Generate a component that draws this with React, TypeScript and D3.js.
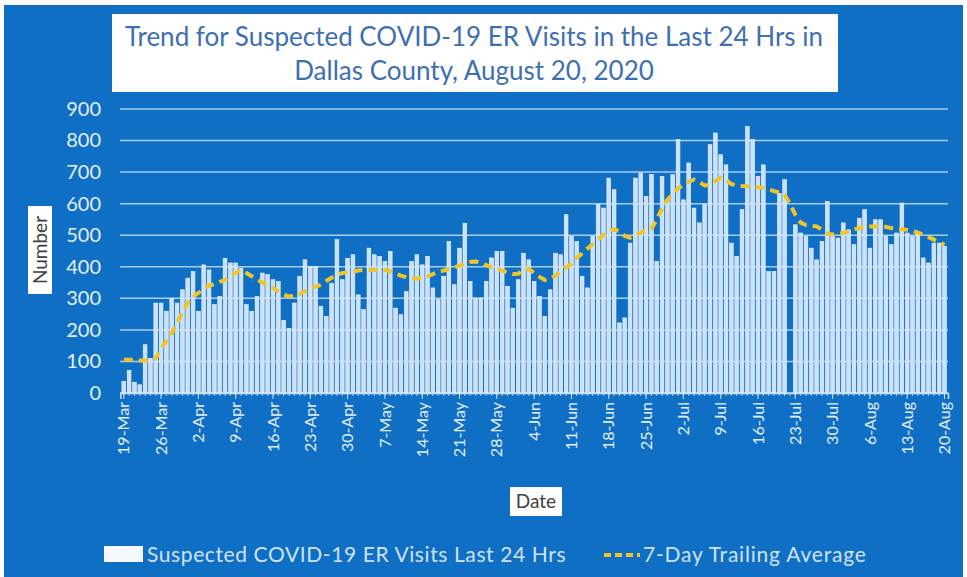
import { useRef, useEffect } from "react";
import { select, scaleBand, scaleLinear, line, axisLeft, axisBottom, timeDay, timeFormat } from "d3";

// daily ER visits, 19-Mar .. 20-Aug 2020
const visits: number[] = [
  37, 72, 34, 26, 153, 110, 285,
  285, 259, 300, 285, 327, 364, 385,
  259, 406, 390, 280, 306, 427, 412,
  412, 396, 280, 259, 306, 380, 375,
  359, 354, 230, 205, 285, 370, 422,
  401, 401, 275, 243, 348, 486, 359,
  427, 438, 311, 264, 459, 438, 433,
  417, 449, 269, 248, 322, 417, 438,
  406, 433, 333, 296, 370, 480, 343,
  459, 538, 354, 301, 301, 354, 428,
  449, 449, 338, 269, 359, 443, 422,
  354, 306, 243, 327, 443, 438, 565,
  496, 480, 370, 333, 496, 597, 586,
  681, 644, 222, 238, 475, 681, 697,
  623, 692, 417, 686, 612, 692, 803,
  612, 729, 586, 539, 597, 787, 824,
  755, 723, 475, 433, 581, 845, 803,
  686, 723, 385, 385, 633, 676, 0,
  533, 507, 496, 459, 422, 480, 607,
  496, 491, 539, 517, 470, 554, 581,
  459, 549, 549, 496, 470, 507, 602,
  507, 496, 502, 428, 412, 475, 475,
  465,
];

// 7-day trailing average as drawn
const trailing: number[] = [
  105, 105, 105, 103, 103, 103, 110,
  140, 165, 190, 222, 255, 285, 305,
  317, 330, 340, 345, 352, 358, 370,
  382, 390, 380, 370, 360, 350, 340,
  333, 322, 312, 306, 308, 314, 322,
  330, 337, 343, 355, 365, 375, 380,
  383, 385, 388, 390, 390, 390, 390,
  390, 385, 378, 372, 367, 364, 363,
  365, 370, 377, 383, 388, 393, 398,
  404, 410, 415, 417, 412, 405, 398,
  394, 388, 382, 377, 378, 390, 393,
  380, 368, 358, 362, 372, 385, 398,
  410, 428, 443, 458, 472, 487, 500,
  512, 520, 510, 498, 492, 500, 508,
  515, 520, 550, 585, 612, 632, 648,
  660, 670, 676, 668, 658, 660, 672,
  682, 675, 662, 658, 656, 655, 654,
  652, 650, 645, 640, 635, 628, 600,
  565, 540, 532, 530, 528, 518, 505,
  502, 505, 507, 512, 518, 523, 526,
  528, 528, 528, 526, 523, 521, 519,
  517, 514, 508, 502, 494, 486, 478,
  470,
];

const yTicks = [0, 100, 200, 300, 400, 500, 600, 700, 800, 900];
const titleLines = [
  "Trend for Suspected COVID-19 ER Visits in the Last 24 Hrs in",
  "Dallas County, August 20, 2020",
];
const barLabel = "Suspected COVID-19 ER Visits Last 24 Hrs";
const lineLabel = "7-Day Trailing Average";

const days = timeDay.range(new Date(2020, 2, 19), new Date(2020, 7, 21));
const fmt = timeFormat("%-d-%b");

const W = 967;
const H = 577;
const BG = "#0f6fc5";
const FONT = "Lato, 'Open Sans', sans-serif";

export default function App() {
  const yAxisRef = useRef<SVGGElement>(null);
  const xAxisRef = useRef<SVGGElement>(null);

  const x = scaleBand<Date>().domain(days).range([120.3, 948]).padding(0.3);
  const y = scaleLinear().domain([0, 900]).range([393, 109]);
  const cx = (d: Date) => (x(d) ?? 0) + x.bandwidth() / 2;

  const avgLine = line<number>()
    .x((_, i) => cx(days[i]))
    .y((d) => y(d));

  useEffect(() => {
    const ya = select(yAxisRef.current!);
    ya.call(axisLeft(y).tickValues(yTicks).tickSize(0).tickPadding(19) as any);
    ya.select(".domain").remove();
    ya.selectAll("text")
      .attr("fill", "#e3eefa")
      .style("font-size", "20px")
      .style("font-family", FONT);

    const xa = select(xAxisRef.current!);
    xa.call(
      axisBottom(x)
        .tickValues(days.filter((_, i) => i % 7 === 0))
        .tickFormat(fmt as any)
        .tickSize(6) as any
    );
    xa.select(".domain").attr("stroke", "#cfe2f6").attr("stroke-width", 1.5);
    xa.selectAll(".tick line").attr("stroke", "#cfe2f6");
    xa.selectAll("text")
      .attr("fill", "#e3eefa")
      .attr("transform", "rotate(-90)")
      .attr("text-anchor", "end")
      .attr("x", -9)
      .attr("y", 0)
      .attr("dy", "0.35em")
      .style("font-size", "16px")
      .style("font-family", FONT);
  }, []);

  return (
    <svg width={W} height={H} style={{ position: "absolute", left: 0, top: 0 }}>
      <rect x={0} y={0} width={W} height={H} fill="#ffffff" />
      <rect x={4} y={5} width={959} height={572} fill={BG} />

      {/* title */}
      <rect x={112} y={14} width={726} height={78} fill="#ffffff" />
      {titleLines.map((t, i) => (
        <text key={i} x={474} y={46 + i * 34} textAnchor="middle" fill="#3d6fb3"
          style={{ fontSize: 26, fontFamily: FONT }}>{t}</text>
      ))}

      {/* grid */}
      {yTicks.map((t) => (
        <line key={t} x1={120} x2={948} y1={y(t)} y2={y(t)} stroke="#a9cdf0" strokeWidth={1.5} />
      ))}

      {/* bars */}
      {visits.map((v, i) => (
        <rect key={i} x={x(days[i])} y={y(v)} width={x.bandwidth()} height={y(0) - y(v)}
          fill="#cae1f7" stroke="#f4f9ff" strokeWidth={0.6} />
      ))}

      {/* daily minor ticks */}
      {days.map((d, i) => (
        <line key={i} x1={cx(d)} x2={cx(d)} y1={393} y2={396} stroke="#cfe2f6" strokeWidth={0.8} />
      ))}

      <path d={avgLine(trailing) ?? ""} fill="none" stroke="#f0c52a" strokeWidth={4}
        strokeDasharray="9,6" />

      <g ref={yAxisRef} transform="translate(120,0)" />
      <g ref={xAxisRef} transform="translate(0,393)" />

      {/* axis titles */}
      <g transform="translate(40,250) rotate(-90)">
        <rect x={-44} y={-12} width={88} height={24} fill="#ffffff" />
        <text x={0} y={7} textAnchor="middle" fill="#404040" style={{ fontSize: 19, fontFamily: FONT }}>Number</text>
      </g>
      <rect x={510} y={487} width={52} height={29} fill="#ffffff" />
      <text x={536} y={508} textAnchor="middle" fill="#404040" style={{ fontSize: 19, fontFamily: FONT }}>Date</text>

      {/* legend */}
      <rect x={104} y={546} width={39} height={16} fill="#f4f9ff" />
      <text x={147} y={562} fill="#cfe2f6" style={{ fontSize: 21, fontFamily: FONT, letterSpacing: 0.6 }}>{barLabel}</text>
      <line x1={604} x2={640} y1={555} y2={555} stroke="#f0c52a" strokeWidth={4} strokeDasharray="7,4" />
      <text x={643} y={562} fill="#cfe2f6" style={{ fontSize: 21, fontFamily: FONT, letterSpacing: 0.8 }}>{lineLabel}</text>
    </svg>
  );
}
